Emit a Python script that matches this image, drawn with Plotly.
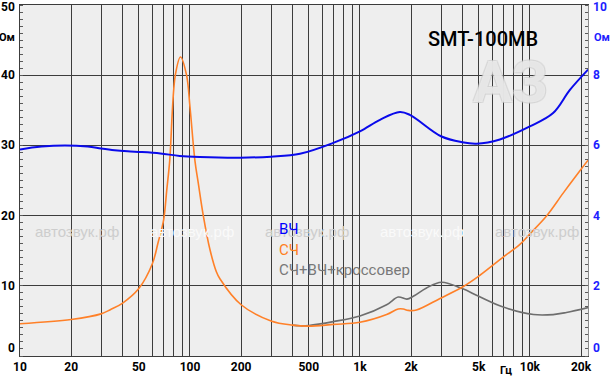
import plotly.graph_objects as go

# ---- data ----
mid_freq = [10, 20, 30, 34, 40, 50, 60, 65, 70, 73, 76, 82, 88, 95.5, 100, 107, 112, 120, 131, 143,
            150, 200, 300, 400, 500, 700, 1000, 1436, 1680, 1800, 1923, 2150, 2960, 4060, 5080,
            6970, 8740, 10000, 12500, 15700, 19700, 22000]
mid_ohm = [4.6, 5.2, 6.0, 6.6, 7.5, 9.6, 13.1, 16.2, 19.4, 23.6, 27.8, 40.0, 42.6, 40.0, 35.5, 27.8, 24.6, 19.9, 15.2, 12.0,
           11.0, 7.3, 5.0, 4.4, 4.25, 4.5, 4.8, 5.9, 6.7, 6.7, 6.5, 6.55, 8.2, 9.9, 11.5,
           14.1, 15.9, 17.4, 19.9, 23.2, 26.4, 27.9]

hi_freq = [10, 13.4, 25, 30, 36, 43, 52, 67, 87, 114, 197, 300, 444, 697, 1000, 1312, 1718, 1967,
           3000, 4000, 4850, 6660, 10000, 13700, 17200, 22000]
hi_ohm = [5.88, 5.97, 5.97, 5.91, 5.86, 5.83, 5.81, 5.77, 5.70, 5.67, 5.65, 5.68, 5.76, 6.07, 6.40, 6.73, 6.95, 6.87,
          6.26, 6.09, 6.05, 6.17, 6.54, 6.92, 7.58, 8.16]

sys_freq = [400, 444, 500, 697, 1000, 1436, 1680, 1890, 2060, 2466, 3020, 4000, 5000, 6900, 10500, 13700, 16400, 22000]
sys_ohm = [4.4, 4.3, 4.35, 4.9, 5.7, 7.3, 8.4, 8.1, 8.5, 9.7, 10.5, 9.6, 8.5, 7.0, 5.9, 5.9, 6.2, 6.9]

x_grid = [20, 30, 40, 50, 60, 70, 80, 90, 100, 200, 300, 400, 500, 600, 700, 800, 900,
          1000, 2000, 3000, 4000, 5000, 6000, 7000, 8000, 9000, 10000, 20000]
x_labels = {10: "10", 20: "20", 50: "50", 100: "100", 200: "200", 500: "500",
            1000: "1k", 2000: "2k", 5000: "5k", 10000: "10k", 20000: "20k"}
left_ticks = [0, 10, 20, 30, 40, 50]
right_ticks = [0, 2, 4, 6, 8, 10]

BLUE = "rgb(10,10,235)"
ORANGE = "rgb(255,128,40)"
GRAY = "rgb(110,110,110)"
GRID = "rgb(60,60,60)"
BG = "rgb(238,238,238)"

tickvals = [10] + x_grid
ticktext = [x_labels.get(v, "") for v in tickvals]

fig = go.Figure()
fig.add_trace(go.Scatter(x=hi_freq, y=hi_ohm, mode="lines", yaxis="y2",
                         line=dict(color=BLUE, width=2, shape="spline"), name="ВЧ"))
fig.add_trace(go.Scatter(x=sys_freq, y=sys_ohm, mode="lines",
                         line=dict(color=GRAY, width=1.6, shape="spline"), name="СЧ+ВЧ+кроссовер"))
fig.add_trace(go.Scatter(x=mid_freq, y=mid_ohm, mode="lines",
                         line=dict(color=ORANGE, width=1.6, shape="spline"), name="СЧ"))

fig.update_layout(
    width=610, height=378,
    margin=dict(l=20, r=22, t=4, b=19),
    paper_bgcolor="white", plot_bgcolor=BG,
    showlegend=False,
    font=dict(family="Roboto", size=12, color="black"),
    xaxis=dict(type="log", range=[1, 4.342], tickvals=tickvals, ticktext=ticktext,
               showgrid=True, gridcolor=GRID, gridwidth=1,
               showline=True, linecolor=GRID, linewidth=1, mirror=True,
               ticks="", tickfont=dict(family="Roboto", size=12, color="black", weight="bold"),
               zeroline=False),
    yaxis=dict(range=[0, 50], tickvals=[10, 20, 30, 40], showticklabels=False,
               showgrid=True, gridcolor=GRID, gridwidth=1,
               showline=True, linecolor=GRID, linewidth=1,
               ticks="", zeroline=False,
               minor=dict(dtick=1, ticks="inside", ticklen=3, tickcolor="rgb(90,90,90)", showgrid=False)),
    yaxis2=dict(range=[0, 10], overlaying="y", side="right", showticklabels=False,
                showgrid=False, showline=True, linecolor="rgb(140,140,140)", linewidth=1,
                tickvals=[], zeroline=False,
                minor=dict(dtick=0.2, ticks="inside", ticklen=3, tickcolor="rgb(90,90,90)", showgrid=False)),
)

LABEL_FONT = dict(family="Roboto", size=12, color="black")
RLABEL_FONT = dict(family="Roboto", size=12, color="rgb(30,30,255)")
UNIT_FONT = dict(family="Roboto", size=11, color="black")
RUNIT_FONT = dict(family="Roboto", size=11, color="rgb(30,30,255)")


def px(xp):
    return (xp - 20) / 568


def py(yp):
    return (358.7 - yp) / 354.7


ann = []
# small logo near the title
ann.append(dict(x=px(510), xref="paper", xanchor="center", y=py(82), yref="paper", yanchor="middle",
                text="<b>АЗ</b>", showarrow=False,
                font=dict(family="Roboto", size=58, color="rgba(250,250,250,0.55)",
                          shadow="-1px -1px 0 rgb(205,205,205), 1px -1px 0 rgb(205,205,205), "
                                 "-1px 1px 0 rgb(205,205,205), 1px 1px 0 rgb(205,205,205)")))
# left axis labels
for v in left_ticks:
    shift = 0
    if v == 50:
        shift = -1.5
    if v == 0:
        shift = 8
    ann.append(dict(x=0, xref="paper", xanchor="right", xshift=-3, y=v, yref="y", yanchor="middle",
                    yshift=shift, text="<b>%d</b>" % v, showarrow=False, font=LABEL_FONT))
ann.append(dict(x=0, xref="paper", xanchor="right", xshift=-3, y=45, yref="y", yanchor="middle", yshift=3,
                text="<b>Ом</b>", showarrow=False, font=UNIT_FONT))
# right axis labels
for v in right_ticks:
    shift = 0
    if v == 10:
        shift = -1.5
    if v == 0:
        shift = 8
    ann.append(dict(x=1, xref="paper", xanchor="left", xshift=3, y=v, yref="y2", yanchor="middle",
                    yshift=shift, text="<b>%d</b>" % v, showarrow=False, font=RLABEL_FONT))
ann.append(dict(x=1, xref="paper", xanchor="left", xshift=4, y=9, yref="y2", yanchor="middle", yshift=3,
                text="<b>Ом</b>", showarrow=False, font=RUNIT_FONT))

# x axis unit
ann.append(dict(x=px(506), xref="paper", xanchor="center", y=0, yref="paper", yanchor="top", yshift=-6,
                text="<b>Гц</b>", showarrow=False, font=UNIT_FONT))

# title
ann.append(dict(x=px(483), xref="paper", xanchor="center", y=py(38), yref="paper", yanchor="middle",
                text="SMT-100MB", showarrow=False,
                font=dict(family="Roboto", size=20, color="black", weight=500)))

# watermarks
wm_x = [77, 192, 307, 422, 537]
wm_col = ["rgb(205,205,205)", "rgb(250,250,250)", "rgb(205,205,205)", "rgb(250,250,250)", "rgb(205,205,205)"]
for xx, cc in zip(wm_x, wm_col):
    ann.append(dict(x=px(xx), xref="paper", xanchor="center", y=py(233), yref="paper", yanchor="middle",
                    text="автозвук.рф", showarrow=False,
                    font=dict(family="Liberation Sans", size=15, color=cc)))

# legend text
leg = [("ВЧ", "rgb(0,0,255)", 230), ("СЧ", "rgb(255,128,30)", 252), ("СЧ+ВЧ+кроссовер", "rgb(120,120,120)", 272)]
for t, c, yy in leg:
    ann.append(dict(x=px(277), xref="paper", xanchor="left", y=py(yy), yref="paper",
                    yanchor="middle", text=t, showarrow=False,
                    font=dict(family="Roboto", size=15, color=c)))

fig.update_layout(annotations=ann)
fig.write_html("out.html", config={"displayModeBar": False},
               post_script="document.body.style.margin='0';")
